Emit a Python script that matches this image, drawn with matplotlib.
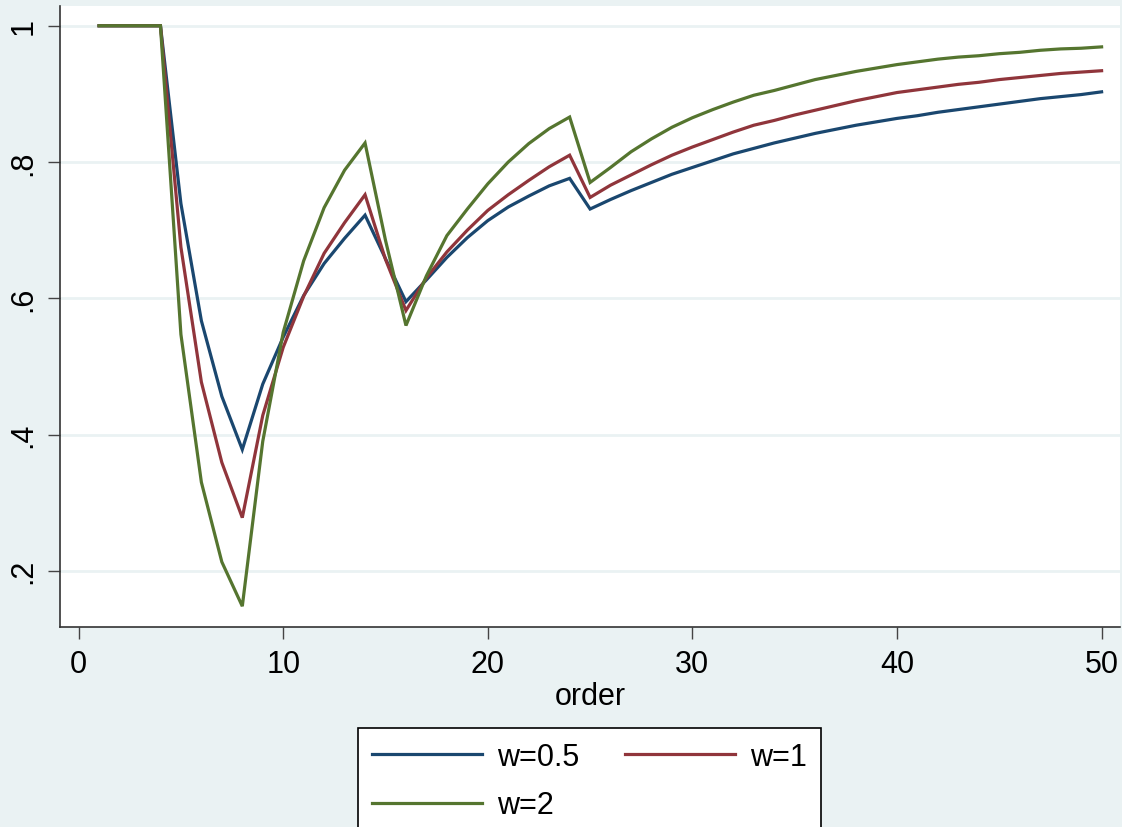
import matplotlib.pyplot as plt

order = list(range(1, 51))

w05 = [1.0, 1.0, 1.0, 1.0, 0.739, 0.567, 0.456, 0.378, 0.474, 0.543,
       0.604, 0.651, 0.688, 0.722, 0.658, 0.595, 0.627, 0.660, 0.689, 0.714,
       0.734, 0.750, 0.765, 0.776, 0.731, 0.745, 0.758, 0.770, 0.782, 0.792,
       0.802, 0.812, 0.820, 0.828, 0.835, 0.842, 0.848, 0.854, 0.859, 0.864,
       0.868, 0.873, 0.877, 0.881, 0.885, 0.889, 0.893, 0.896, 0.899, 0.903]

w1 = [1.0, 1.0, 1.0, 1.0, 0.675, 0.477, 0.359, 0.278, 0.428, 0.528,
      0.603, 0.666, 0.711, 0.752, 0.657, 0.582, 0.630, 0.668, 0.700, 0.729,
      0.752, 0.773, 0.793, 0.810, 0.748, 0.766, 0.781, 0.796, 0.810, 0.822,
      0.833, 0.844, 0.854, 0.861, 0.869, 0.876, 0.883, 0.890, 0.896, 0.902,
      0.906, 0.910, 0.914, 0.917, 0.921, 0.924, 0.927, 0.930, 0.932, 0.934]

w2 = [1.0, 1.0, 1.0, 1.0, 0.547, 0.330, 0.213, 0.148, 0.390, 0.550,
      0.655, 0.733, 0.788, 0.828, 0.685, 0.560, 0.633, 0.692, 0.731, 0.768,
      0.800, 0.827, 0.849, 0.866, 0.770, 0.792, 0.815, 0.834, 0.851, 0.865,
      0.877, 0.888, 0.898, 0.905, 0.913, 0.921, 0.927, 0.933, 0.938, 0.943,
      0.947, 0.951, 0.954, 0.956, 0.959, 0.961, 0.964, 0.966, 0.967, 0.969]

labels = ['w=0.5', 'w=1', 'w=2']
colors = ['#1a476f', '#90353b', '#55752f']
yticks = [0.2, 0.4, 0.6, 0.8, 1.0]
ytick_labels = ['.2', '.4', '.6', '.8', '1']
xticks = [0, 10, 20, 30, 40, 50]

bg = '#eaf2f3'
plt.rcParams['font.family'] = ['Liberation Sans', 'DejaVu Sans']

fig = plt.figure(figsize=(11.22, 8.28), dpi=100, facecolor=bg)
ax = fig.add_axes([60 / 1122, 1 - 628 / 828, 1060 / 1122, 621 / 828])
ax.set_facecolor('white')

lines = []
for ys, lab, col in zip([w05, w1, w2], labels, colors):
    ln, = ax.plot(order, ys, color=col, lw=2.3, label=lab, solid_joinstyle='miter')
    lines.append(ln)

ax.set_xlim(-0.91, 50.9)
ax.set_ylim(0.1175, 1.029)

ax.set_yticks(yticks)
ax.set_yticklabels(ytick_labels, rotation=90, va='center')
ax.set_xticks(xticks)
ax.grid(axis='y', color=bg, lw=2.0)
ax.set_axisbelow(True)

for s in ['top', 'right']:
    ax.spines[s].set_visible(False)
for s in ['left', 'bottom']:
    ax.spines[s].set_color('#333333')
    ax.spines[s].set_linewidth(1.2)

ax.tick_params(axis='both', labelsize=22, length=8.5, width=1.0,
               color='#444444', pad=7)
ax.set_xlabel('order', fontsize=22, labelpad=2)

# legend fills column-wise, so reorder to get row-wise layout
h = [lines[0], lines[2], lines[1]]
ax.legend(h, [l.get_label() for l in h],
          loc='upper center', bbox_to_anchor=(589.5 / 1122, 1 - 714 / 828),
          bbox_transform=fig.transFigure, ncol=2, fontsize=22,
          frameon=True, fancybox=False, edgecolor='black', framealpha=1,
          handlelength=3.6, handletextpad=0.5, columnspacing=1.5,
          labelspacing=0.6, borderpad=0.45)
leg = ax.get_legend()
leg.get_frame().set_linewidth(1.2)

fig.savefig('out.png', dpi=100, facecolor=bg)
